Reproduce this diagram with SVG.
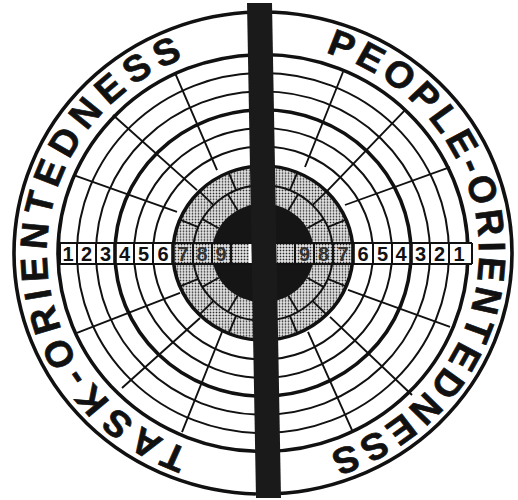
<svg xmlns="http://www.w3.org/2000/svg" width="518" height="500" viewBox="0 0 518 500">
<defs>
<pattern id="dots" width="3" height="3" patternUnits="userSpaceOnUse">
<rect width="3" height="3" fill="#fff"/>
<rect x="0.6" y="0.6" width="1.8" height="1.8" fill="#2a2a2a"/>
</pattern>
<path id="pL" d="M0 216A216 216 0 0 1 0 -216"/>
<path id="pR" d="M0 -216A216 216 0 0 1 0 216"/>
<style>
.thin{fill:none;stroke:#111;stroke-width:2}
.thick{fill:none;stroke:#111;stroke-width:3.6}
.rad{fill:none;stroke:#111;stroke-width:1.9}
.lbl{font-family:"Liberation Sans",Arial,sans-serif;font-weight:bold;font-size:38px;fill:#111;stroke:#111;stroke-width:0.7}
.num{font-family:"Liberation Sans",Arial,sans-serif;font-weight:bold;font-size:20px;fill:#111;text-anchor:middle}
.numS{font-family:"Liberation Sans",Arial,sans-serif;font-weight:bold;font-size:20px;fill:#333;text-anchor:middle}
</style>
</defs>
<rect width="518" height="500" fill="#fff"/>
<g id="target" transform="translate(263,253) scale(1,0.968)">
  <circle r="249" class="thick" stroke-width="4.5"/>
  <circle r="205" class="thick" stroke-width="4"/>
  <circle r="186" class="thin"/>
  <circle r="167" class="thin"/>
  <circle r="148" class="thick"/>
  <circle r="129" class="thin"/>
  <circle r="110" class="thin"/>
  <circle r="90" fill="url(#dots)"/>
  <circle r="51" fill="#151515"/>
  <circle r="70" class="thin"/>
  <path class="rad" d="M-86 -42.4L-190 -80.6M-66 -65L-150 -142.6M-46 -85.7L-88 -186M82 -49.6L187 -88.8M64 -64L142 -147.7M42 -88.8L80 -187M85 38.2L187 76.4M67 66L149 146.7M45 81.6L89 182.9M-83 41.3L-186 82.6M-63 67.1L-141 139.5M-41 81.6L-81 185"/>
  <path class="rad" d="M-64.7 -26.8L-83.2 -34.4M-49.5 -49.5L-63.6 -63.6M-26.8 -64.7L-34.4 -83.2M64.7 -26.8L83.2 -34.4M49.5 -49.5L63.6 -63.6M26.8 -64.7L34.4 -83.2M64.7 26.8L83.2 34.4M49.5 49.5L63.6 63.6M26.8 64.7L34.4 83.2M-64.7 26.8L-83.2 34.4M-49.5 49.5L-63.6 63.6M-26.8 64.7L-34.4 83.2"/>
  <path class="rad" d="M-44.2 -25.5L-60.6 -35M-25.5 -44.2L-35 -60.6M44.2 -25.5L60.6 -35M25.5 -44.2L35 -60.6M44.2 25.5L60.6 35M25.5 44.2L35 60.6M-44.2 25.5L-60.6 35M-25.5 44.2L-35 60.6"/>
  <circle r="90" class="thick" stroke-width="4"/>
  <text class="lbl" text-anchor="middle" letter-spacing="6.8"><textPath href="#pL" startOffset="50%">TASK-ORIENTEDNESS</textPath></text>
  <text class="lbl" text-anchor="middle" letter-spacing="4.5"><textPath href="#pR" startOffset="50%">PEOPLE-ORIENTEDNESS</textPath></text>
</g>
<g id="scale">
  <rect x="60" y="243" width="412" height="21" fill="#fff"/>
  <rect x="173" y="243" width="76" height="21" fill="url(#dots)"/>
  <rect x="277" y="243" width="76" height="21" fill="url(#dots)"/>
  <path d="M60 243H472M60 264H472" stroke="#111" stroke-width="2.2" fill="none"/>
  <path class="thin" d="M60 243V264M77 243V264M96 243V264M134 243V264M153 243V264M193 243V264M212 243V264M231 243V264M472 243V264M449 243V264M430 243V264M392 243V264M373 243V264M333 243V264M314 243V264M295 243V264"/>
  <path class="thick" d="M115 243V264M173 243V264M411 243V264M353 243V264"/>
  <text class="num" x="68" y="260.5">1</text>
  <text class="num" x="86.5" y="260.5">2</text>
  <text class="num" x="105.5" y="260.5">3</text>
  <text class="num" x="124.5" y="260.5">4</text>
  <text class="num" x="143.5" y="260.5">5</text>
  <text class="num" x="163" y="260.5">6</text>
  <text class="numS" x="183" y="260.5">7</text>
  <text class="numS" x="202" y="260.5">8</text>
  <text class="numS" x="221" y="260.5">9</text>
  <text class="num" x="459" y="260.5">1</text>
  <text class="num" x="439.5" y="260.5">2</text>
  <text class="num" x="420.5" y="260.5">3</text>
  <text class="num" x="401" y="260.5">4</text>
  <text class="num" x="382.5" y="260.5">5</text>
  <text class="num" x="363" y="260.5">6</text>
  <text class="numS" x="343" y="260.5">7</text>
  <text class="numS" x="323.5" y="260.5">8</text>
  <text class="numS" x="304.5" y="260.5">9</text>
</g>
<polygon id="bar" points="247,3 272,3 281,498 256,498" fill="#1a1a1a"/>
</svg>
